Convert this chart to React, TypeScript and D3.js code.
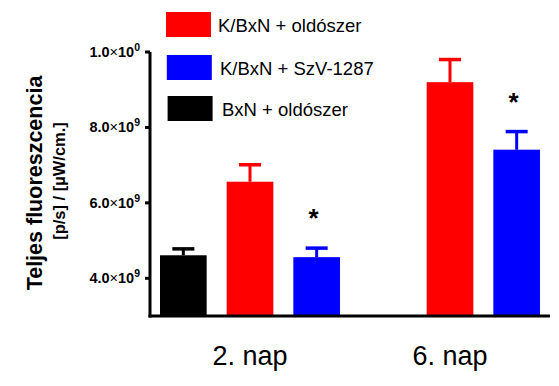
import React from "react";
import * as d3 from "d3";

const days = ["2. nap", "6. nap"];
const seriesNames = ["BxN + oldószer", "K/BxN + oldószer", "K/BxN + SzV-1287"];
const seriesColors = ["#000000", "#ff0000", "#0000ff"];
// values [day][series], null = missing
const means: (number | null)[][] = [
  [4.61e9, 6.56e9, 4.56e9],
  [null, 9.2e9, 7.41e9],
];
const errors: (number | null)[][] = [
  [0.17e9, 0.45e9, 0.24e9],
  [null, 0.6e9, 0.48e9],
];
const significant: boolean[][] = [
  [false, false, true],
  [false, false, true],
];
const yTicks = [4e9, 6e9, 8e9, 10e9];
const yTickMant = ["4.0", "6.0", "8.0", "1.0"];
const yTickExp = ["9", "9", "9", "0"];
const legendOrder = [1, 2, 0];

export default function App() {
  const W = 559, H = 386;
  const x0 = 150, x1 = 550, yTop = 52, yBot = 316;
  const y = d3.scaleLinear().domain([3e9, 10e9]).range([yBot, yTop]);
  const slots = days.flatMap((d, i) => seriesNames.map((_, j) => `${i}-${j}`));
  const xb = d3.scaleBand<string>().domain(slots).range([x0, x1]).paddingInner(0.3).paddingOuter(0.15);
  const bw = xb.bandwidth();
  const font = "Arial, 'Liberation Sans', sans-serif";

  const legendY = [12, 55, 96];
  return (
    <svg width={W} height={H} style={{ position: "absolute", left: 0, top: 0, background: "#fff" }}>
      {/* bars */}
      {means.map((row, i) =>
        row.map((v, j) => {
          if (v == null) return null;
          const bx = xb(`${i}-${j}`)!;
          const e = errors[i][j]!;
          const cx = bx + bw / 2;
          return (
            <g key={`${i}-${j}`}>
              <line x1={cx} x2={cx} y1={y(v)} y2={y(v + e)} stroke={seriesColors[j]} strokeWidth={3} />
              <line x1={cx - 11} x2={cx + 11} y1={y(v + e)} y2={y(v + e)} stroke={seriesColors[j]} strokeWidth={3.5} />
              <rect x={bx} y={y(v)} width={bw} height={yBot - y(v)} fill={seriesColors[j]} />
              {significant[i][j] && (
                <text x={cx - 3} y={y(v + e) - 21} fontFamily={font} fontWeight="bold" fontSize={26} textAnchor="middle">*</text>
              )}
            </g>
          );
        })
      )}
      {/* axes */}
      <line x1={x0} x2={x0} y1={yTop} y2={yBot + 1.5} stroke="#000" strokeWidth={3} />
      <line x1={x0 - 1.5} x2={x1} y1={yBot} y2={yBot} stroke="#000" strokeWidth={3} />
      {yTicks.map((t, i) => (
        <g key={t}>
          <line x1={x0 - 5} x2={x0} y1={y(t)} y2={y(t)} stroke="#000" strokeWidth={3} />
          <text x={140} y={y(t) + 5} textAnchor="end" fontFamily={font} fontWeight="bold" fontSize={14.5}>
            {yTickMant[i]}
            <tspan fontWeight="normal">×</tspan>10
            <tspan fontSize={10.5} dy={-6}>{yTickExp[i]}</tspan>
          </text>
        </g>
      ))}
      {/* y title */}
      <text transform="translate(42,183) rotate(-90)" textAnchor="middle" fontFamily={font} fontWeight="bold" fontSize={21.5}>
        Teljes fluoreszcencia
      </text>
      <text transform="translate(65,181) rotate(-90)" textAnchor="middle" fontFamily={font} fontWeight="bold" fontSize={16.5}>
        [p/s] / [µW/cm.]
      </text>
      {/* x labels */}
      {days.map((d, i) => {
        const a = xb(`${i}-0`)!;
        const b = xb(`${i}-2`)! + bw;
        return (
          <text key={d} x={(a + b) / 2} y={365} textAnchor="middle" fontFamily={font} fontSize={27}>
            {d}
          </text>
        );
      })}
      {/* legend */}
      {legendOrder.map((j, k) => (
        <g key={j}>
          <rect x={166 + k * 0.8} y={legendY[k]} width={45} height={25} fill={seriesColors[j]} />
          <text x={218 + k * 2} y={legendY[k] + 20} fontFamily={font} fontSize={18.5}>
            {seriesNames[j]}
          </text>
        </g>
      ))}
    </svg>
  );
}
